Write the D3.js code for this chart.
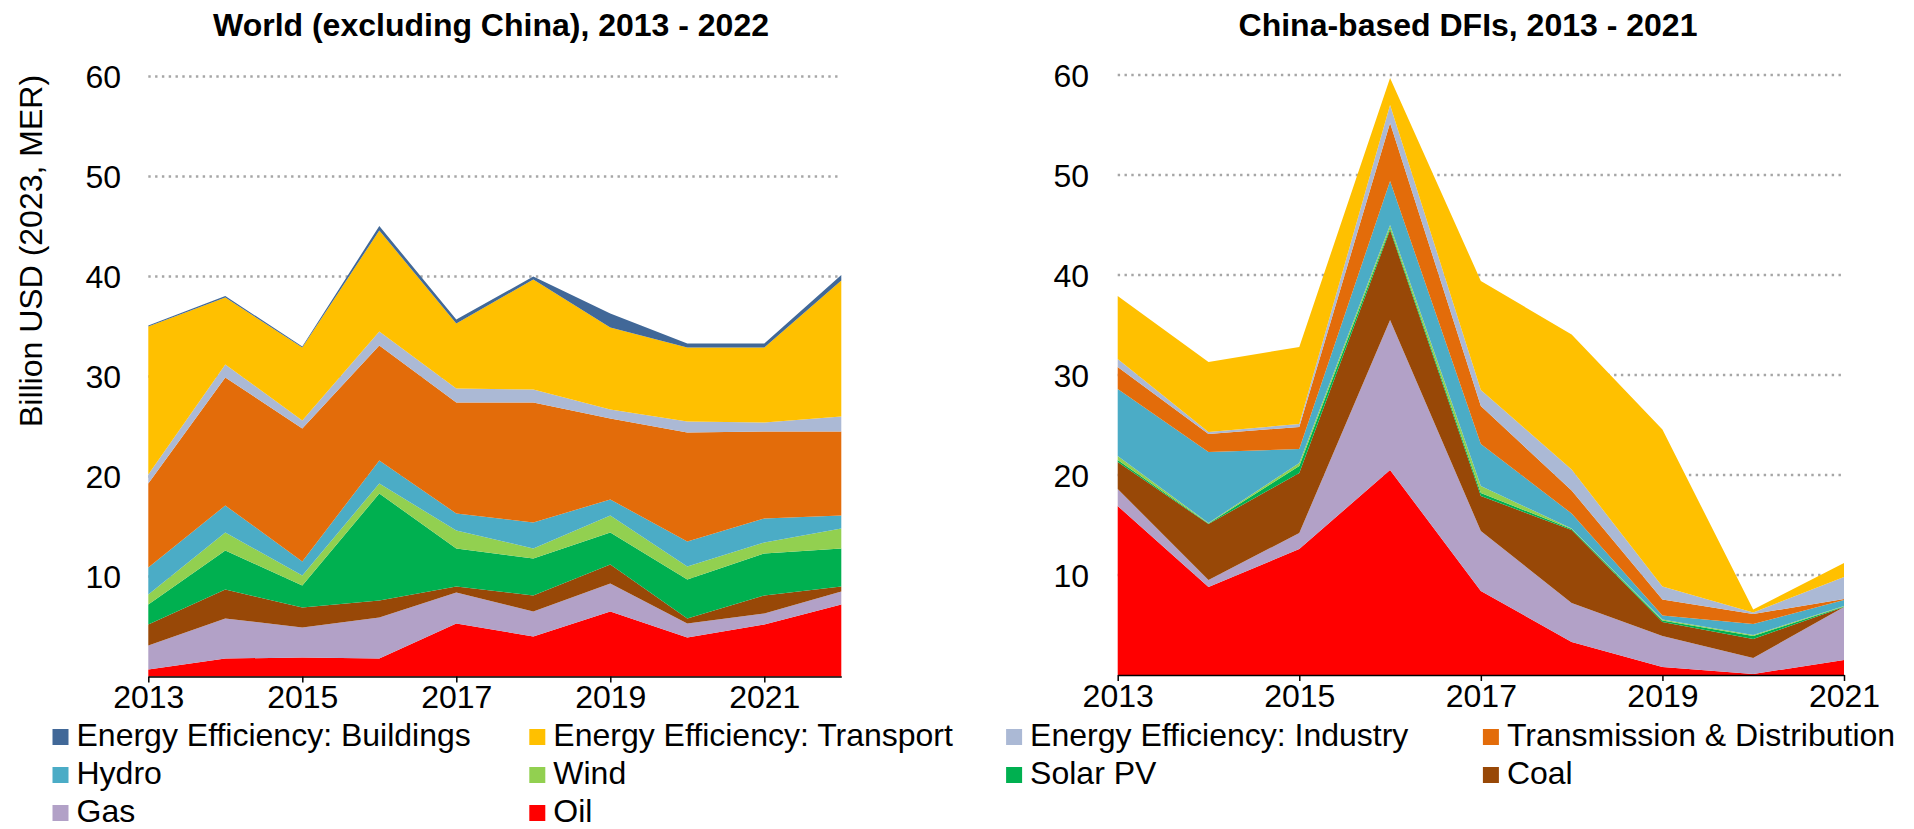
<!DOCTYPE html>
<meta charset="utf-8">
<style>
  body { margin: 0; background: #fff; }
  text { font-family: "Liberation Sans", Arial, sans-serif; fill: #000; }
</style>

<!-- Load d3.js -->
<script src="https://d3js.org/d3.v7.min.js"></script>

<svg id="my_dataviz" width="1914" height="829"></svg>

<script>
// Categories, bottom of the stack first
var categories = ["Oil", "Gas", "Coal", "Solar PV", "Wind", "Hydro",
  "Transmission & Distribution", "Energy Efficiency: Industry",
  "Energy Efficiency: Transport", "Energy Efficiency: Buildings"]

var colors = ["#ff0000", "#b2a1c7", "#984807", "#00b050", "#92d050", "#4bacc6",
  "#e36c0a", "#abb9d5", "#ffc000", "#416898"]

// legend reads top of the stack first
var legendOrder = ["Energy Efficiency: Buildings", "Energy Efficiency: Transport",
  "Energy Efficiency: Industry", "Transmission & Distribution",
  "Hydro", "Wind", "Solar PV", "Coal", "Gas", "Oil"]

var yTicks = [10, 20, 30, 40, 50, 60]

// World (excluding China), billion USD
var worldYears     = [2013, 2014, 2015, 2016, 2017, 2018, 2019, 2020, 2021, 2022]
var worldOil       = [0.7, 1.8, 1.9, 1.8, 5.3, 4.0, 6.5, 3.9, 5.2, 7.2]
var worldGas       = [2.4, 4.0, 3.0, 4.1, 3.1, 2.5, 2.8, 1.4, 1.1, 1.3]
var worldCoal      = [2.1, 2.9, 2.0, 1.7, 0.6, 1.6, 1.9, 0.5, 1.8, 0.5]
var worldSolar     = [2.0, 3.9, 2.2, 10.7, 3.8, 3.7, 3.2, 3.9, 4.2, 3.8]
var worldWind      = [1.0, 1.8, 1.0, 1.0, 1.8, 1.0, 1.7, 1.3, 1.1, 2.0]
var worldHydro     = [2.7, 2.7, 1.4, 2.3, 1.7, 2.6, 1.6, 2.5, 2.4, 1.3]
var worldTD        = [8.4, 12.8, 13.3, 11.5, 11.1, 12.0, 8.1, 10.9, 8.7, 8.4]
var worldIndustry  = [0.9, 1.3, 0.8, 1.4, 1.4, 1.3, 0.9, 1.1, 0.9, 1.5]
var worldTransport = [14.8, 6.7, 7.3, 10.1, 6.5, 11.0, 8.2, 7.4, 7.5, 13.6]
var worldBuildings = [0.1, 0.15, 0.1, 0.45, 0.4, 0.3, 1.4, 0.4, 0.4, 0.55]

// China-based DFIs, billion USD
var chinaYears     = [2013, 2014, 2015, 2016, 2017, 2018, 2019, 2020, 2021]
var chinaOil       = [16.9, 8.8, 12.6, 20.5, 8.4, 3.3, 0.8, 0.1, 1.5]
var chinaGas       = [1.7, 0.7, 1.6, 15.0, 6.0, 3.9, 3.1, 1.6, 5.3]
var chinaCoal      = [2.7, 5.6, 6.0, 9.0, 3.5, 7.3, 1.4, 1.9, 0.0]
var chinaSolar     = [0.2, 0.05, 0.7, 0.2, 0.3, 0.1, 0.15, 0.3, 0.05]
var chinaWind      = [0.4, 0.05, 0.3, 0.3, 0.7, 0.05, 0.1, 0.1, 0.05]
var chinaHydro     = [6.7, 7.1, 1.4, 4.4, 4.2, 1.5, 0.4, 1.1, 0.6]
var chinaTD        = [2.2, 1.8, 2.2, 5.8, 3.8, 2.3, 1.6, 1.0, 0.1]
var chinaIndustry  = [0.8, 0.2, 0.3, 1.8, 1.6, 2.1, 1.3, 0.15, 2.2]
var chinaTransport = [6.3, 7.0, 7.7, 2.7, 10.9, 13.5, 15.7, 0.3, 1.4]
var chinaBuildings = [0, 0, 0, 0, 0, 0, 0, 0, 0]

// build row tables for d3.stack
function makeTable(years, series) {
  return years.map(function(yr, i) {
    var row = {year: yr}
    categories.forEach(function(c, j) { row[c] = series[j][i] })
    return row
  })
}

var worldTable = makeTable(worldYears, [worldOil, worldGas, worldCoal, worldSolar, worldWind,
  worldHydro, worldTD, worldIndustry, worldTransport, worldBuildings])
var chinaTable = makeTable(chinaYears, [chinaOil, chinaGas, chinaCoal, chinaSolar, chinaWind,
  chinaHydro, chinaTD, chinaIndustry, chinaTransport, chinaBuildings])

var svg = d3.select("svg")
var color = d3.scaleOrdinal().domain(categories).range(colors)

function drawPanel(table, years, xRange, yRange, title, titleX, labelRight) {
  var g = svg.append("g")

  var x = d3.scaleLinear().domain([years[0], years[years.length - 1]]).range(xRange)
  var y = d3.scaleLinear().domain([0, 60]).range(yRange)

  // dotted gridlines (behind the areas)
  g.selectAll(".grid")
    .data(yTicks)
    .enter().append("line")
      .attr("x1", xRange[0]).attr("x2", xRange[1])
      .attr("y1", function(d) { return y(d) }).attr("y2", function(d) { return y(d) })
      .style("stroke", "#a6a6a6")
      .style("stroke-width", 2.5)
      .style("stroke-dasharray", "2.4,4.4")

  // stacked areas
  var stacked = d3.stack().keys(categories)(table)
  var area = d3.area()
    .x(function(d) { return x(d.data.year) })
    .y0(function(d) { return y(d[0]) })
    .y1(function(d) { return y(d[1]) })

  g.selectAll(".layer")
    .data(stacked)
    .enter().append("path")
      .attr("d", area)
      .style("fill", function(d) { return color(d.key) })
      .style("stroke", "none")

  // y tick labels
  g.selectAll(".ylab")
    .data(yTicks)
    .enter().append("text")
      .attr("x", labelRight)
      .attr("y", function(d) { return y(d) })
      .attr("dy", "0.36em")
      .attr("text-anchor", "end")
      .style("font-size", "32px")
      .text(function(d) { return d })

  // x axis: line, ticks and labels on odd years
  var xAxis = d3.axisBottom(x)
    .tickValues(years.filter(function(d) { return d % 2 == 1 }))
    .tickFormat(d3.format("d"))
    .tickSizeInner(6)
    .tickSizeOuter(0)
    .tickPadding(3)
  var ax = g.append("g")
    .attr("transform", "translate(0," + yRange[0] + ")")
    .call(xAxis)
  ax.select(".domain").style("stroke", "#000").style("stroke-width", 1.5)
  ax.selectAll(".tick line").style("stroke", "#000").style("stroke-width", 1.5)
  ax.selectAll(".tick text")
    .style("font-size", "32px")
    .style("font-family", "Liberation Sans, Arial, sans-serif")
    .style("fill", "#000")

  // panel title
  svg.append("text")
    .attr("x", titleX)
    .attr("y", 36)
    .attr("text-anchor", "middle")
    .style("font-size", "32px")
    .style("font-weight", "bold")
    .text(title)
}

drawPanel(worldTable, worldYears, [148.3, 841.3], [676.5, 76.5],
  "World (excluding China), 2013 - 2022", 491, 121)
drawPanel(chinaTable, chinaYears, [1117.7, 1844], [675, 75],
  "China-based DFIs, 2013 - 2021", 1468, 1089)

// y axis title
svg.append("text")
  .attr("transform", "translate(42,251) rotate(-90)")
  .attr("text-anchor", "middle")
  .style("font-size", "32px")
  .text("Billion USD (2023, MER)")

// legend, 4 columns
var legend = svg.selectAll(".legend")
  .data(legendOrder)
  .enter().append("g")
    .attr("transform", function(d, i) {
      return "translate(" + (52.5 + (i % 4) * 476.8) + "," + (729 + Math.floor(i / 4) * 38) + ")"
    })

legend.append("rect")
  .attr("width", 16)
  .attr("height", 16)
  .style("fill", function(d) { return color(d) })

legend.append("text")
  .attr("x", 24)
  .attr("y", 17)
  .style("font-size", "32px")
  .text(function(d) { return d })
</script>
